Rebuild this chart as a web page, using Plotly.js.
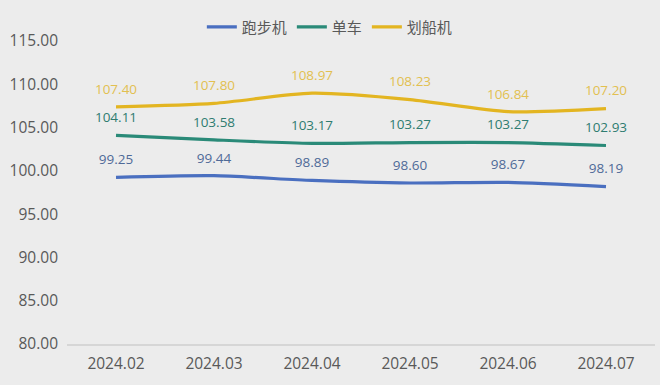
<!DOCTYPE html>
<html>
<head>
<meta charset="utf-8">
<script src="https://cdn.plot.ly/plotly-3.0.1.min.js"></script>
<style>html,body{margin:0;padding:0;background:#ececec;}#chart{width:660px;height:385px;}</style>
</head>
<body>
<div id="chart"></div>
<script>
const months = ["2024.02","2024.03","2024.04","2024.05","2024.06","2024.07"];
const treadmill = [99.25, 99.44, 98.89, 98.60, 98.67, 98.19];
const bike = [104.11, 103.58, 103.17, 103.27, 103.27, 102.93];
const rower = [107.40, 107.80, 108.97, 108.23, 106.84, 107.20];
const names = ["跑步机", "单车", "划船机"];
const lineColors = ["#4a6fc0", "#2a8a78", "#e3b521"];
const labelColors = ["#4f6a98", "#2f7c70", "#e2c050"];

const series = [treadmill, bike, rower];
const traces = series.map((vals, i) => ({
  x: months,
  y: vals,
  name: names[i],
  type: "scatter",
  mode: "lines+markers+text",
  line: {color: lineColors[i], width: 3.2, shape: "spline", smoothing: 0.7},
  marker: {size: 14, color: "rgba(0,0,0,0)", line: {width: 0}},
  text: vals.map(v => v.toFixed(2)),
  textposition: "top center",
  textfont: {color: labelColors[i], size: 13.5, family: "Open Sans, Noto Sans, sans-serif"},
  cliponaxis: false,
  hoverinfo: "skip"
}));

const layout = {
  width: 660,
  height: 385,
  paper_bgcolor: "#ececec",
  plot_bgcolor: "#ececec",
  margin: {l: 67, r: 5, t: 41, b: 41},
  showlegend: true,
  legend: {
    orientation: "h",
    x: 0.447, xanchor: "center",
    y: 1.046, yanchor: "middle",
    font: {family: "Noto Sans CJK SC, sans-serif", size: 15, color: "#595959"},
    itemwidth: 30,
    tracegroupgap: 0,
    bgcolor: "rgba(0,0,0,0)"
  },
  xaxis: {
    type: "category",
    showgrid: false,
    zeroline: false,
    showline: true,
    linecolor: "#d6d6d6",
    linewidth: 1.5,
    ticks: "",
    ticklabelstandoff: 5,
    tickfont: {family: "Open Sans, Noto Sans, sans-serif", size: 15.5, color: "#595959"},
    range: [-0.5, 5.5]
  },
  yaxis: {
    range: [80, 115],
    dtick: 5,
    tick0: 80,
    tickformat: ".2f",
    showgrid: false,
    zeroline: false,
    showline: false,
    ticks: "",
    ticklabelstandoff: 8,
    tickfont: {family: "Open Sans, Noto Sans, sans-serif", size: 15.5, color: "#595959"}
  }
};

Plotly.newPlot("chart", traces, layout, {displayModeBar: false, staticPlot: true});
</script>
</body>
</html>
